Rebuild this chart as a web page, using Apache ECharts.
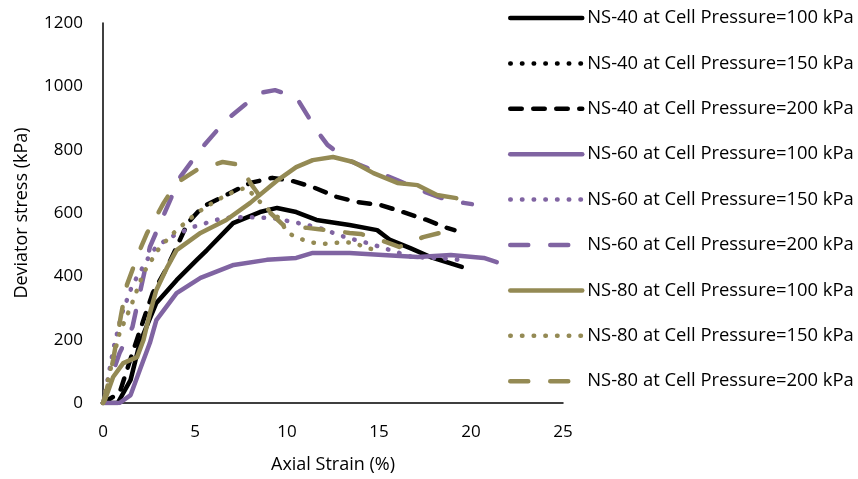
<!DOCTYPE html>
<html>
<head>
<meta charset="utf-8">
<script src="https://cdn.jsdelivr.net/npm/echarts@6/dist/echarts.min.js"></script>
<style>
  html, body { margin: 0; padding: 0; background: #fff; }
  #chart { width: 858px; height: 479px; }
</style>
</head>
<body>
<div id="chart"></div>
<script>
// 数据：[轴向应变 %, 偏应力 kPa]
var ns40_100 = [[0,0],[0.8,0],[1.5,73],[2.0,190],[2.9,316],[4.0,388],[5.1,452],[5.65,483],[7.07,568],[8.53,603],[9.46,616],[10.5,603],[11.6,578],[13.4,562],[14.9,546],[15.6,515],[16.7,489],[17.8,461],[19.5,430]];
var ns40_150 = [];
var ns40_200 = [[0,0],[0.9,32],[1.6,158],[2.2,262],[2.7,347],[3.5,430],[4.6,568],[5.4,619],[6.7,657],[8.0,695],[9.2,711],[10.3,701],[11.4,682],[12.7,651],[13.8,635],[15.1,625],[16.3,603],[17.6,578],[18.7,553],[19.1,546]];
var ns60_100 = [[0,0],[0.9,0],[1.5,25],[2.0,104],[2.55,190],[2.9,262],[4.0,347],[5.3,395],[7.1,436],[8.9,452],[10.5,458],[11.4,474],[13.4,474],[15.2,467],[17.1,461],[18.9,467],[20.7,458],[21.4,445]];
var ns60_150 = [[0,0],[0.2,57],[0.55,167],[1.0,278],[1.6,373],[2.55,467],[2.9,493],[3.6,522],[4.9,556],[6.5,584],[7.8,587],[9.2,584],[10.3,572],[11.6,556],[13.3,521],[14.4,505],[15.6,483],[16.8,461],[18.2,458],[19.4,452]];
var ns60_200 = [[0,0],[0.3,57],[0.9,158],[1.6,240],[2.55,493],[3.3,594],[4.2,714],[5.4,808],[6.7,894],[8.5,979],[9.35,988],[10.5,966],[11.6,862],[12.2,815],[13.3,767],[15.05,726],[15.98,704],[17.2,673],[18.7,641],[19.6,632],[20.05,628]];
var ns80_100 = [[0,0],[0.1,9],[0.55,82],[1.1,126],[1.85,145],[2.2,199],[2.55,284],[2.9,357],[3.5,430],[4.0,483],[5.3,537],[6.7,578],[8.0,632],[9.5,704],[10.5,745],[11.4,767],[12.5,777],[13.6,761],[14.7,726],[16.0,695],[17.1,688],[18.15,657],[19.2,647]];
var ns80_150 = [[0,0],[0.15,41],[0.4,104],[0.9,221],[1.5,303],[2.2,411],[3.1,493],[4.0,546],[5.1,600],[6.2,641],[7.3,673],[7.8,679],[8.8,619],[9.5,587],[10.05,537],[10.6,521],[11.25,508],[11.9,502],[12.5,505],[13.15,508],[13.7,505],[14.35,489],[14.9,483]];
var ns80_200 = [[0,0],[0.2,41],[0.55,136],[1.0,284],[1.3,373],[2.0,483],[2.4,537],[3.3,632],[4.0,695],[5.1,736],[6.5,761],[7.45,752],[8.0,695],[8.4,663],[9.1,600],[9.8,562],[11.1,553],[12.2,546],[13.4,537],[14.0,534],[15.4,508],[16.1,493],[17.4,524],[18.3,537]];

var seriesNames = ['NS-40 at Cell Pressure=100 kPa','NS-40 at Cell Pressure=150 kPa','NS-40 at Cell Pressure=200 kPa',
                   'NS-60 at Cell Pressure=100 kPa','NS-60 at Cell Pressure=150 kPa','NS-60 at Cell Pressure=200 kPa',
                   'NS-80 at Cell Pressure=100 kPa','NS-80 at Cell Pressure=150 kPa','NS-80 at Cell Pressure=200 kPa'];
var seriesData = [ns40_100, ns40_150, ns40_200, ns60_100, ns60_150, ns60_200, ns80_100, ns80_150, ns80_200];

var black = '#000000', purple = '#8064A2', olive = '#948A54';
var colors = [black, black, black, purple, purple, purple, olive, olive, olive];
var dashSolid = 'solid', dashDot = [0.5, 11.2], dashShort = [11.5, 11.5], dashLong = [18, 22];
var dashes = [dashSolid, dashDot, dashShort, dashSolid, dashDot, dashLong, dashSolid, dashDot, dashLong];

var font = 'Open Sans';
var chart = echarts.init(document.getElementById('chart'));

var series = seriesNames.map(function (name, i) {
    return {
        name: name,
        type: 'line',
        data: seriesData[i],
        symbol: 'none',
        smooth: false,
        lineStyle: { color: colors[i], width: 4.5, type: dashes[i], cap: 'round', join: 'round' },
        itemStyle: { color: colors[i] }
    };
});

chart.setOption({
    animation: false,
    backgroundColor: '#fff',
    textStyle: { fontFamily: font },
    grid: { left: 103, right: 295, top: 23, bottom: 76 },
    legend: {
        orient: 'vertical',
        left: 508,
        top: 9,
        padding: 0,
        itemWidth: 72,
        itemHeight: 18,
        itemGap: 27.4,
        itemStyle: { opacity: 0 },
        lineStyle: { width: 4.5 },
        textStyle: { fontFamily: font, fontSize: 18.4, color: '#000', lineHeight: 18 },
        data: seriesNames
    },
    xAxis: {
        type: 'value',
        min: 0, max: 25, interval: 5,
        name: 'Axial Strain (%)',
        nameLocation: 'middle',
        nameGap: 53,
        nameTextStyle: { fontFamily: font, fontSize: 18, color: '#000' },
        axisLine: { lineStyle: { color: '#000', width: 1.5 } },
        axisTick: { show: false },
        splitLine: { show: false },
        axisLabel: { fontFamily: font, fontSize: 17, color: '#000', margin: 21 }
    },
    yAxis: {
        type: 'value',
        min: 0, max: 1200, interval: 200,
        name: 'Deviator stress (kPa)',
        nameLocation: 'middle',
        nameGap: 72,
        nameTextStyle: { fontFamily: font, fontSize: 18, color: '#000' },
        axisLine: { show: true, lineStyle: { color: '#000', width: 1.5 } },
        axisTick: { show: false },
        splitLine: { show: false },
        axisLabel: { fontFamily: font, fontSize: 17, color: '#000', margin: 20, formatter: function (v) { return String(v); } }
    },
    series: series
});
</script>
</body>
</html>
